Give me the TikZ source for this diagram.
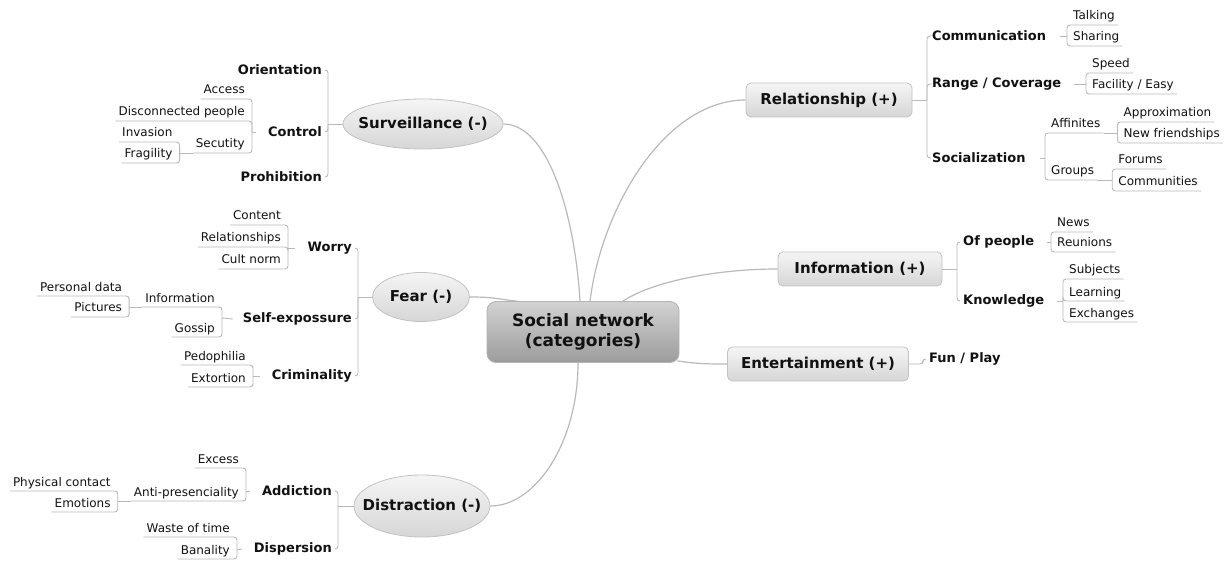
\documentclass[tikz,border=0pt]{standalone}
\usepackage{fontspec}
\setmainfont{DejaVu Sans}
\usetikzlibrary{shapes.geometric,calc}
\definecolor{linec}{HTML}{B9B9B9}
\definecolor{edgec}{HTML}{C2C2C2}
\definecolor{txt}{HTML}{111111}
\definecolor{topTop}{HTML}{F5F5F5}
\definecolor{topBot}{HTML}{D6D6D6}
\definecolor{cenTop}{HTML}{D2D2D2}
\definecolor{cenBot}{HTML}{9C9C9C}
\definecolor{cenEdge}{HTML}{B4B4B4}
\begin{document}
\begin{tikzpicture}[x=1pt,y=-1pt,
  conn/.style={draw=linec, line width=0.9pt, rounded corners=3pt},
  mainline/.style={draw=linec, line width=1.2pt},
  leaf/.style={font=\fontsize{12}{14}\selectfont, text=txt, inner xsep=3pt, inner ysep=2.2pt, text height=9pt, text depth=2.6pt},
  sub/.style={font=\bfseries\fontsize{13}{15}\selectfont, text=txt, inner xsep=3pt, inner ysep=2pt},
  topicE/.style={ellipse, draw=edgec, line width=0.8pt, top color=topTop, bottom color=topBot, font=\bfseries\fontsize{15}{17}\selectfont, text=txt, inner xsep=-14pt, inner ysep=0pt},
  topicR/.style={rectangle, rounded corners=5pt, draw=edgec, line width=0.8pt, top color=topTop, bottom color=topBot, font=\bfseries\fontsize{15}{17}\selectfont, text=txt, inner sep=0pt, minimum height=34pt},
  central/.style={rectangle, rounded corners=9pt, draw=cenEdge, line width=0.8pt, top color=cenTop, bottom color=cenBot, font=\bfseries\fontsize{17}{20}\selectfont, text=txt, align=center, inner sep=0pt, minimum width=192pt, minimum height=61pt}
]
\useasboundingbox (0,0) rectangle (1231,561);

% central and main topics
\node[central] (c) at (583,332) {Social network\\(categories)};
\node[topicE, minimum width=160pt, minimum height=50pt] (surv) at (423,124) {Surveillance (-)};
\node[topicE, minimum width=97pt, minimum height=49pt] (fear) at (421,297) {Fear (-)};
\node[topicE, minimum width=136pt, minimum height=62pt] (dist) at (422,506) {Distraction (-)};
\node[topicR, minimum width=166pt] (rel) at (829,100) {Relationship (+)};
\node[topicR, minimum width=164pt] (info) at (860,269) {Information (+)};
\node[topicR, minimum width=181pt] (ent) at (818,364) {Entertainment (+)};

\draw[mainline] ([xshift=-3pt]c.north) .. controls +(-5,-85) and +(45,0) .. (surv.east);
\draw[mainline] (fear.east) .. controls +(25,0) and +(-20,-2) .. ([xshift=-66pt]c.north);
\draw[mainline] ([xshift=-5pt]c.south) .. controls +(0,80) and +(45,0) .. (dist.east);
\draw[mainline] ([xshift=7pt]c.north) .. controls +(12,-95) and +(-80,0) .. (rel.west);
\draw[mainline] ([xshift=40pt]c.north) .. controls +(30,-20) and +(-60,0) .. (info.west);
\draw[mainline] ($(c.south east)+(-2,-2)$) .. controls +(20,3) and +(-20,0) .. (ent.west);

% ---------- Surveillance ----------
\coordinate (bs) at (328,124);
\node[sub, anchor=east] (orient) at (325,70) {Orientation};
\node[sub, anchor=east] (control) at (325,132) {Control};
\node[sub, anchor=east] (prohib) at (325,177) {Prohibition};
\draw[conn] (surv.west) -- (bs);
\draw[conn] (bs) |- (orient.east);
\draw[conn] (bs) |- (control.east);
\draw[conn] (bs) |- (prohib.east);

\coordinate (bc) at (252,132);
\node[leaf, anchor=south east] (access) at (248,99) {Access};
\node[leaf, anchor=south east] (disc) at (248,121) {Disconnected people};
\node[leaf, anchor=south east] (secu) at (248,153) {Secutity};
\draw[conn] (control.west) ++(-9,0) -- (bc);
\draw[conn] (bc) |- (access.south west);
\draw[conn] (bc) |- (disc.south west);
\draw[conn] (bc) |- (secu.south west);

\coordinate (bsec) at ($(secu.south west)+(-13,0)$);
\node[leaf, anchor=south east] (inv) at ($(bsec)+(-4,-11)$) {Invasion};
\node[leaf, anchor=south east] (frag) at ($(bsec)+(-4,10)$) {Fragility};
\draw[conn] (secu.south west) -- (bsec);
\draw[conn] (bsec) |- (inv.south west);
\draw[conn] (bsec) |- (frag.south west);

% ---------- Fear ----------
\coordinate (bf) at (358,297);
\node[sub, anchor=east] (worry) at (355,248) {Worry};
\node[sub, anchor=east] (selfexp) at (355,319) {Self-expossure};
\node[sub, anchor=east] (crim) at (355,376) {Criminality};
\draw[conn] (fear.west) -- (bf);
\draw[conn] (bf) |- (worry.east);
\draw[conn] (bf) |- (selfexp.east);
\draw[conn] (bf) |- (crim.east);

\coordinate (bw) at (288,248);
\node[leaf, anchor=south east] (content) at (284,225) {Content};
\node[leaf, anchor=south east] (relat) at (284,247) {Relationships};
\node[leaf, anchor=south east] (cult) at (284,269) {Cult norm};
\draw[conn] (worry.west) ++(-10,0) -- (bw);
\draw[conn] (bw) |- (content.south west);
\draw[conn] (bw) |- (relat.south west);
\draw[conn] (bw) |- (cult.south west);

\coordinate (bse) at (222,318);
\node[leaf, anchor=south east] (infor) at (218,307) {Information};
\node[leaf, anchor=south east] (gossip) at (218,337) {Gossip};
\draw[conn] (selfexp.west) ++(-7,0) -- (bse);
\draw[conn] (bse) |- (infor.south west);
\draw[conn] (bse) |- (gossip.south west);

\coordinate (binf) at ($(infor.south west)+(-13,0)$);
\node[leaf, anchor=south east] (pdata) at ($(binf)+(-4,-11)$) {Personal data};
\node[leaf, anchor=south east] (pict) at ($(binf)+(-4,10)$) {Pictures};
\draw[conn] (infor.south west) -- (binf);
\draw[conn] (binf) |- (pdata.south west);
\draw[conn] (binf) |- (pict.south west);

\coordinate (bcr) at (253,376);
\node[leaf, anchor=south east] (pedo) at (249,365) {Pedophilia};
\node[leaf, anchor=south east] (extort) at (249,387) {Extortion};
\draw[conn] (crim.west) ++(-9,0) -- (bcr);
\draw[conn] (bcr) |- (pedo.south west);
\draw[conn] (bcr) |- (extort.south west);

% ---------- Distraction ----------
\coordinate (bd) at (338,506);
\node[sub, anchor=east] (addict) at (335,491) {Addiction};
\node[sub, anchor=east] (disp) at (335,549) {Dispersion};
\draw[conn] (dist.west) -- (bd);
\draw[conn] (bd) |- (addict.east);
\draw[conn] (bd) |- (disp.east);

\coordinate (bad) at (246,492);
\node[leaf, anchor=south east] (excess) at (242,468) {Excess};
\node[leaf, anchor=south east] (antip) at (242,501) {Anti-presenciality};
\draw[conn] (addict.west) ++(-9,0) -- (bad);
\draw[conn] (bad) |- (excess.south west);
\draw[conn] (bad) |- (antip.south west);

\coordinate (bap) at ($(antip.south west)+(-13,0)$);
\node[leaf, anchor=south east] (phys) at ($(bap)+(-4,-10)$) {Physical contact};
\node[leaf, anchor=south east] (emot) at ($(bap)+(-4,11)$) {Emotions};
\draw[conn] (antip.south west) -- (bap);
\draw[conn] (bap) |- (phys.south west);
\draw[conn] (bap) |- (emot.south west);

\coordinate (bdp) at (237,550);
\node[leaf, anchor=south east] (waste) at (233,537) {Waste of time};
\node[leaf, anchor=south east] (banal) at (233,559) {Banality};
\draw[conn] (disp.west) ++(-9,0) -- (bdp);
\draw[conn] (bdp) |- (waste.south west);
\draw[conn] (bdp) |- (banal.south west);

% ---------- Relationship ----------
\coordinate (br) at (927,100);
\node[sub, anchor=west] (comm) at (929,36) {Communication};
\node[sub, anchor=west] (range) at (929,84) {Range / Coverage};
\node[sub, anchor=west] (social) at (929,158) {Socialization};
\draw[conn] (rel.east) -- (br);
\draw[conn] (br) |- (comm.west);
\draw[conn] (br) |- (range.west);
\draw[conn] (br) |- (social.west);

\coordinate (bcm) at (1067,36);
\node[leaf, anchor=south west] (talk) at (1070,25) {Talking};
\node[leaf, anchor=south west] (shar) at (1070,46) {Sharing};
\draw[conn] (comm.east) ++(11,0) -- (bcm);
\draw[conn] (bcm) |- (talk.south east);
\draw[conn] (bcm) |- (shar.south east);

\coordinate (brg) at (1086,84);
\node[leaf, anchor=south west] (speed) at (1089,73) {Speed};
\node[leaf, anchor=south west] (facil) at (1089,94) {Facility / Easy};
\draw[conn] (range.east) ++(10,0) -- (brg);
\draw[conn] (brg) |- (speed.south east);
\draw[conn] (brg) |- (facil.south east);

\coordinate (bso) at (1045,158);
\node[leaf, anchor=south west] (affin) at (1048,133) {Affinites};
\node[leaf, anchor=south west] (groups) at (1048,180) {Groups};
\draw[conn] (social.east) ++(11,0) -- (bso);
\draw[conn] (bso) |- (affin.south east);
\draw[conn] (bso) |- (groups.south east);

\coordinate (baf) at ($(affin.south east)+(14,0)$);
\node[leaf, anchor=south west] (approx) at ($(baf)+(3,-11)$) {Approximation};
\node[leaf, anchor=south west] (newf) at ($(baf)+(3,10)$) {New friendships};
\draw[conn] (affin.south east) -- (baf);
\draw[conn] (baf) |- (approx.south east);
\draw[conn] (baf) |- (newf.south east);

\coordinate (bgr) at ($(groups.south east)+(15,0)$);
\node[leaf, anchor=south west] (forums) at ($(bgr)+(3,-11)$) {Forums};
\node[leaf, anchor=south west] (commun) at ($(bgr)+(3,11)$) {Communities};
\draw[conn] (groups.south east) -- (bgr);
\draw[conn] (bgr) |- (forums.south east);
\draw[conn] (bgr) |- (commun.south east);

% ---------- Information ----------
\coordinate (bi) at (957,269);
\node[sub, anchor=west] (ofp) at (960,242) {Of people};
\node[sub, anchor=west] (know) at (960,301) {Knowledge};
\draw[conn] (info.east) -- (bi);
\draw[conn] (bi) |- (ofp.west);
\draw[conn] (bi) |- (know.west);

\coordinate (bop) at (1051,242);
\node[leaf, anchor=south west] (news) at (1054,232) {News};
\node[leaf, anchor=south west] (reun) at (1054,252) {Reunions};
\draw[conn] (ofp.east) ++(10,0) -- (bop);
\draw[conn] (bop) |- (news.south east);
\draw[conn] (bop) |- (reun.south east);

\coordinate (bk) at (1063,301);
\node[leaf, anchor=south west] (subj) at (1066,279) {Subjects};
\node[leaf, anchor=south west] (learn) at (1066,301) {Learning};
\node[leaf, anchor=south west] (exch) at (1066,322) {Exchanges};
\draw[conn] (know.east) ++(10,0) -- (bk);
\draw[conn] (bk) |- (subj.south east);
\draw[conn] (bk) |- (learn.south east);
\draw[conn] (bk) |- (exch.south east);

% ---------- Entertainment ----------
\node[sub, anchor=west] (fun) at (926,359) {Fun / Play};
\draw[conn] (ent.east) -- ++(14,0) |- (fun.west);
\end{tikzpicture}
\end{document}
